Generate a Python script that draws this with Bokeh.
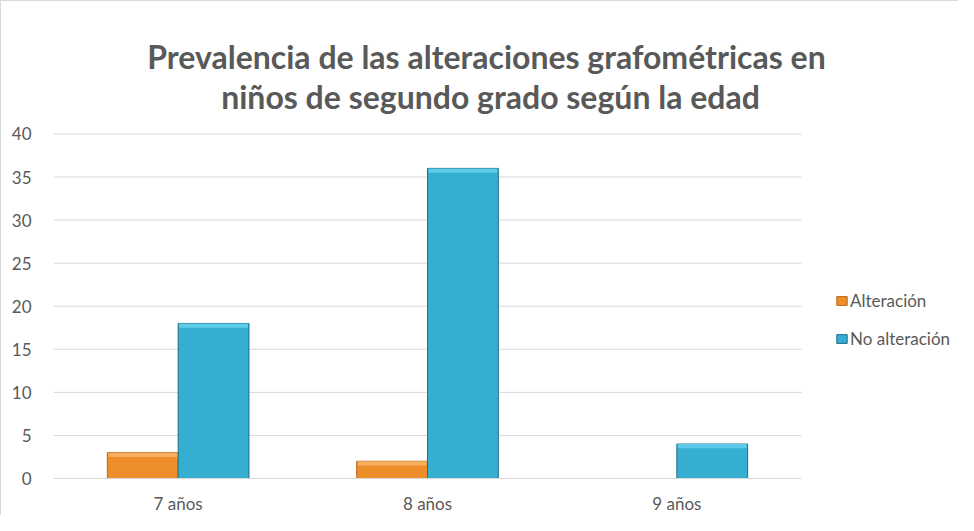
from bokeh.plotting import figure
from bokeh.models import Range1d, ColumnDataSource, Legend, LegendItem, Label, FixedTicker
from bokeh.embed import file_html
from bokeh.resources import INLINE

categories = ["7 años", "8 años", "9 años"]
alteracion = [3, 2, 0]
no_alteracion = [18, 36, 4]
series_names = ["Alteración", "No alteración"]
y_ticks = [0, 5, 10, 15, 20, 25, 30, 35, 40]
title_lines = ["Prevalencia de las alteraciones grafométricas en",
               "niños de segundo grado según la edad"]

W, H = 958, 515
left, bottom = 52, 36
frame_w, frame_h = W - left, H - bottom
cat_px = 748 / len(categories)          # pixels per category
unit_px = 346 / 40.0                     # pixels per value unit

centers = [i + 0.5 for i in range(len(categories))]
bw = 0.284
src = ColumnDataSource(dict(
    xa=[c - bw / 2 for c in centers], xb=[c + bw / 2 for c in centers],
    a=alteracion, b=no_alteracion,
    a0=[max(v - 0.5, 0) for v in alteracion], b0=[max(v - 0.5, 0) for v in no_alteracion]))

p = figure(width=W, height=H, x_range=Range1d(0, frame_w / cat_px), y_range=Range1d(0, frame_h / unit_px),
           output_backend="svg", toolbar_location=None,
           min_border_left=left, min_border_right=0, min_border_top=0, min_border_bottom=bottom)
p.outline_line_color = None
p.background_fill_color = "white"
p.border_fill_color = "white"
p.grid.grid_line_color = None

# gridlines limited to the category area
p.segment(x0=[0] * len(y_ticks), x1=[len(categories)] * len(y_ticks), y0=y_ticks, y1=y_ticks,
          line_color="#D9D9D9", line_width=1)

r1 = p.vbar(x="xa", top="a", width=bw, source=src,
            fill_color="#EE8E2A", line_color="#B8661C", line_width=1)
r2 = p.vbar(x="xb", top="b", width=bw, source=src,
            fill_color="#36AED2", line_color="#1D6F86", line_width=1)
# lighter bevel at the top of each bar
p.vbar(x="xa", top="a", bottom="a0", width=bw - 0.008, source=src,
       fill_color="#F8AE5E", line_color=None)
p.vbar(x="xb", top="b", bottom="b0", width=bw - 0.008, source=src,
       fill_color="#5ECBEA", line_color=None)

p.yaxis.ticker = FixedTicker(ticks=y_ticks)
p.yaxis.axis_line_color = None
p.yaxis.major_tick_line_color = None
p.yaxis.minor_tick_line_color = None
p.yaxis.major_label_standoff = 16

p.xaxis.ticker = FixedTicker(ticks=centers)
p.xaxis.major_label_overrides = {c: name for c, name in zip(centers, categories)}
p.xaxis.bounds = (0, len(categories))
p.xaxis.axis_line_color = "#D9D9D9"
p.xaxis.major_tick_line_color = None
p.xaxis.minor_tick_line_color = None
p.xaxis.major_label_standoff = 8
for ax in (p.xaxis, p.yaxis):
    ax.major_label_text_font = "Lato"
    ax.major_label_text_font_size = "17px"
    ax.major_label_text_color = "#595959"

legend = Legend(items=[LegendItem(label=series_names[0], renderers=[r1]),
                       LegendItem(label=series_names[1], renderers=[r2])],
                location=(782, 129), padding=0, margin=0, glyph_width=13, glyph_height=11,
                label_standoff=2, label_height=20, spacing=17,
                label_text_font="Lato", label_text_font_size="17px", label_text_color="#595959",
                border_line_color=None, background_fill_alpha=0)
p.add_layout(legend, "center")

title_px = [(485, 55), (489, 95)]   # centre x, baseline y in canvas pixels
for line, (px, py) in zip(title_lines, title_px):
    p.add_layout(Label(x=(px - left) / cat_px, y=(frame_h - py) / unit_px, text=line,
                       text_align="center", text_baseline="alphabetic", text_font="Lato",
                       text_font_style="bold", text_font_size="32px", text_color="#595959"))

p.styles = {"border-left": "1px solid #D9D9D9", "border-top": "1px solid #D9D9D9"}

open("out.html", "w").write(file_html(p, INLINE))
